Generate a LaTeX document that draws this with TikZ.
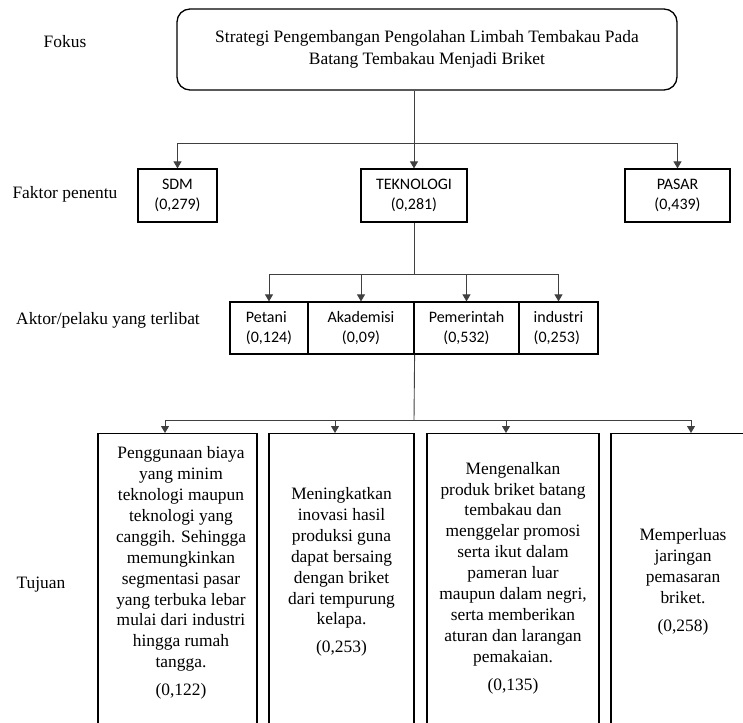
\documentclass[tikz,border=0pt]{standalone}
\usepackage{fontspec}
\setmainfont{Liberation Serif}
\newfontfamily\boxfont{Carlito}
\usetikzlibrary{arrows.meta}

\begin{document}
\begin{tikzpicture}[x=1pt, y=-1pt,
    level/.style={font=\fontsize{17.4}{21}\selectfont},
    fokusbox/.style={draw, line width=1.3pt, rounded corners=13pt, minimum width=500pt,
        minimum height=81pt, align=center, font=\fontsize{17.4}{22}\selectfont},
    smallbox/.style={draw, line width=1.2pt, minimum height=53pt, inner sep=0pt,
        font=\boxfont\fontsize{16}{20.5}\selectfont},
    goalbox/.style={draw, line width=1.3pt, minimum height=340pt, anchor=north},
    goaltext/.style={align=center, font=\fontsize{17.4}{20.9}\selectfont},
    link/.style={draw=black!75, line width=0.9pt},
    arr/.style={-{Triangle[width=8pt,length=7pt]}}]
    \useasboundingbox (0,0) rectangle (743,722);

    % levels on the left
    \node[level] (lfokus) at (65,42) {Fokus};
    \node[level] (lfaktor) at (65,194) {Faktor penentu};
    \node[level] (laktor) at (108,320) {Aktor/pelaku yang terlibat};
    \node[level] (ltujuan) at (41,585) {Tujuan};

    % focus
    \node[fokusbox] (fokus) at (427,49.5) {Strategi Pengembangan Pengolahan Limbah Tembakau Pada\\
        Batang Tembakau Menjadi Briket};

    % factors
    \node[smallbox, minimum width=79pt, align=center] (sdm) at (177.5,195.5) {SDM\\(0,279)};
    \node[smallbox, minimum width=106pt, align=center] (teknologi) at (414,195.5) {TEKNOLOGI\\(0,281)};
    \node[smallbox, minimum width=105pt, align=center] (pasar) at (677.5,195.5) {PASAR\\(0,439)};

    % actors
    \foreach \name/\cx/\w/\al/\txt in {petani/269/78/left/{Petani\\(0,124)},
        akademisi/361/106/center/{Akademisi\\(0,09)},
        pemerintah/466.5/105/center/{Pemerintah\\(0,532)},
        industri/558.5/79/left/{industri\\(0,253)}}
        \node[smallbox, minimum height=52pt, minimum width=\w pt, align=\al] (\name) at (\cx,328) {\txt};

    % goals
    \foreach \i/\cx/\w in {1/177.5/159, 2/341.5/145, 3/513/172, 4/698/174}
        \node[goalbox, minimum width=\w pt] (g\i) at (\cx,433) {};

    \node[goaltext] (t1) at (181,573) {Penggunaan biaya\\ yang minim\\ teknologi maupun\\
        teknologi yang\\ canggih. Sehingga\\ memungkinkan\\ segmentasi pasar\\
        yang terbuka lebar\\ mulai dari industri\\ hingga rumah\\ tangga.\\[7pt] (0,122)};
    \node[goaltext] (t2) at (341.5,572) {Meningkatkan\\ inovasi hasil\\ produksi guna\\
        dapat bersaing\\ dengan briket\\ dari tempurung\\ kelapa.\\[7pt] (0,253)};
    \node[goaltext] (t3) at (513,578) {Mengenalkan\\ produk briket batang\\ tembakau dan\\
        menggelar promosi\\ serta ikut dalam\\ pameran luar\\ maupun dalam negri,\\
        serta memberikan\\ aturan dan larangan\\ pemakaian.\\[7pt] (0,135)};
    \node[goaltext] (t4) at (683,582) {Memperluas\\ jaringan\\ pemasaran\\ briket.\\[7pt] (0,258)};

    % connectors
    \coordinate (f1) at (414,143);
    \coordinate (f2) at (414,274);
    \coordinate (f3) at (414,420);
    \draw[link] (fokus.south -| f1) -- (f1);
    \draw[link, arr] (f1) -| (sdm);
    \draw[link, arr] (f1) -- (teknologi);
    \draw[link, arr] (f1) -| (pasar);

    \draw[link] (teknologi) -- (f2);
    \foreach \name in {petani, akademisi, pemerintah, industri}
        \draw[link, arr] (f2) -| (\name);

    \draw[link] (akademisi.south east) -- (f3);
    \foreach \i/\ax in {1/165, 2/335, 3/506, 4/691}
        \draw[link, arr] (f3) -| (\ax,0 |- g\i.north);
\end{tikzpicture}
\end{document}
